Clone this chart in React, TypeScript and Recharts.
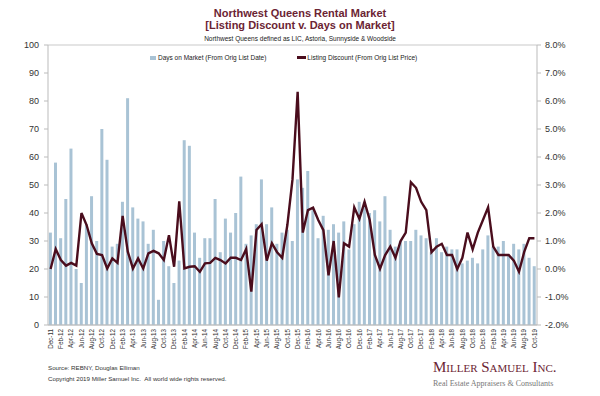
import React from "react";
import {
  Bar,
  CartesianGrid,
  ComposedChart,
  Line,
  XAxis,
  YAxis,
} from "recharts";

// months Dec-11 .. Oct-19
const months = [
  "Dec-11",
  "Jan-12", "Feb-12", "Mar-12", "Apr-12", "May-12", "Jun-12", "Jul-12", "Aug-12", "Sep-12", "Oct-12", "Nov-12", "Dec-12",
  "Jan-13", "Feb-13", "Mar-13", "Apr-13", "May-13", "Jun-13", "Jul-13", "Aug-13", "Sep-13", "Oct-13", "Nov-13", "Dec-13",
  "Jan-14", "Feb-14", "Mar-14", "Apr-14", "May-14", "Jun-14", "Jul-14", "Aug-14", "Sep-14", "Oct-14", "Nov-14", "Dec-14",
  "Jan-15", "Feb-15", "Mar-15", "Apr-15", "May-15", "Jun-15", "Jul-15", "Aug-15", "Sep-15", "Oct-15", "Nov-15", "Dec-15",
  "Jan-16", "Feb-16", "Mar-16", "Apr-16", "May-16", "Jun-16", "Jul-16", "Aug-16", "Sep-16", "Oct-16", "Nov-16", "Dec-16",
  "Jan-17", "Feb-17", "Mar-17", "Apr-17", "May-17", "Jun-17", "Jul-17", "Aug-17", "Sep-17", "Oct-17", "Nov-17", "Dec-17",
  "Jan-18", "Feb-18", "Mar-18", "Apr-18", "May-18", "Jun-18", "Jul-18", "Aug-18", "Sep-18", "Oct-18", "Nov-18", "Dec-18",
  "Jan-19", "Feb-19", "Mar-19", "Apr-19", "May-19", "Jun-19", "Jul-19", "Aug-19", "Sep-19", "Oct-19",
];

const daysOnMarket = [
  33,
  58, 31, 45, 63, 20, 15, 36, 46, 30, 70, 59, 28,
  29, 44, 81, 42, 38, 37, 29, 34, 9, 30, 21, 15,
  23, 66, 64, 33, 24, 31, 31, 45, 26, 38, 33, 40,
  53, 29, 32, 36, 52, 36, 42, 29, 33, 34, 30, 52,
  49, 55, 41, 31, 39, 34, 36, 33, 37, 27, 36, 44,
  44, 40, 41, 37, 46, 34, 28, 30, 30, 30, 34, 32,
  31, 26, 31, 26, 28, 27, 27, 22, 23, 24, 22, 27,
  32, 28, 28, 30, 25, 29, 27, 29, 24, 21,
];

const listingDiscount = [
  0.0,
  0.71, 0.32, 0.12, 0.22, 0.12, 2.0, 1.57, 0.92, 0.54, 0.5, 0.02, 0.38,
  0.22, 1.9, 0.62, 0.02, 0.38, 0.02, 0.56, 0.65, 0.56, 0.32, 1.21, 0.08,
  2.42, 0.02, 0.08, 0.1, -0.1, 0.2, 0.22, 0.4, 0.32, 0.2, 0.4, 0.4,
  0.32, 0.71, -0.81, 1.39, 1.6, 0.3, 0.92, 0.6, 0.4, 1.57, 3.2, 6.33,
  1.3, 2.1, 2.19, 1.75, 1.39, -0.23, 1.0, -1.01, 0.92, 0.8, 2.2, 1.79,
  2.4, 1.75, 0.5, 0.01, 0.5, 0.8, 0.4, 1.0, 1.3, 3.1, 2.9, 2.4,
  2.1, 0.6, 0.8, 0.9, 0.5, 0.5, 0.0, 0.4, 1.3, 0.7, 1.3, 1.75,
  2.2, 0.8, 0.5, 0.5, 0.5, 0.3, -0.1, 0.6, 1.1, 1.1,
];

const leftTicks = [0, 10, 20, 30, 40, 50, 60, 70, 80, 90, 100];
const rightTicks = [-2, -1, 0, 1, 2, 3, 4, 5, 6, 7, 8];

const data = months.map((m, i) => ({
  month: m,
  dom: daysOnMarket[i],
  disc: listingDiscount[i],
}));

const FONT = "'Liberation Sans', Arial, Helvetica, sans-serif";
const BAR = "#a9c3d5";
const LINE = "#4a0d1d";
const BRAND = "#6b2433";

const MonthTick = (props: any) => {
  const { x, y, payload } = props;
  return (
    <text
      x={x}
      y={y}
      transform={`rotate(-90 ${x} ${y})`}
      textAnchor="end"
      dy={2.3}
      fontSize={6.3}
      fontFamily={FONT}
      fill="#333"
    >
      {payload.value}
    </text>
  );
};

const App = () => {
  return (
    <div
      style={{
        position: "absolute",
        left: 0,
        top: 0,
        width: 600,
        height: 396,
        background: "#fff",
        fontFamily: FONT,
      }}
    >
      <div
        style={{
          position: "absolute",
          top: 7,
          width: 600,
          textAlign: "center",
          color: BRAND,
          fontWeight: "bold",
          fontSize: 11,
          lineHeight: "12px",
        }}
      >
        Northwest Queens Rental Market
        <br />
        [Listing Discount v. Days on Market]
      </div>
      <div
        style={{
          position: "absolute",
          top: 35,
          width: 600,
          textAlign: "center",
          fontSize: 6.5,
          color: "#222",
        }}
      >
        Northwest Queens defined as LIC, Astoria, Sunnyside &amp; Woodside
      </div>

      <ComposedChart
        width={600}
        height={396}
        data={data}
        margin={{ top: 45, right: 0, bottom: 0, left: 0 }}
        barCategoryGap="17%"
      >
        <CartesianGrid vertical={false} stroke="#c9c9c9" />
        <XAxis
          dataKey="month"
          interval={1}
          height={71}
          tick={<MonthTick />}
          tickLine={false}
          tickMargin={0}
          tickSize={4}
          stroke="#bbb"
        />
        <YAxis
          yAxisId="left"
          domain={[0, 100]}
          ticks={leftTicks}
          width={48}
          stroke="#bbb"
          tickSize={4}
          tickMargin={5}
          tick={{ fontSize: 9, fill: "#333", fontFamily: FONT }}
          interval={0}
        />
        <YAxis
          yAxisId="right"
          orientation="right"
          domain={[-2, 8]}
          ticks={rightTicks}
          width={63}
          stroke="#bbb"
          tickSize={4}
          tickMargin={4}
          tickFormatter={(v: number) => `${v.toFixed(1)}%`}
          tick={{ fontSize: 9, fill: "#333", fontFamily: FONT }}
          interval={0}
        />
        <Bar
          yAxisId="left"
          dataKey="dom"
          fill={BAR}
          isAnimationActive={false}
        />
        <Line
          yAxisId="right"
          dataKey="disc"
          stroke={LINE}
          strokeWidth={2.4}
          dot={false}
          type="linear"
          isAnimationActive={false}
        />
      </ComposedChart>

      {/* legend */}
      <div
        style={{
          position: "absolute",
          top: 54,
          left: 150,
          fontSize: 6.5,
          color: "#222",
          display: "flex",
          alignItems: "center",
          whiteSpace: "nowrap",
        }}
      >
        <span
          style={{
            display: "inline-block",
            width: 6,
            height: 4,
            background: BAR,
            marginRight: 2,
          }}
        />
        Days on Market (From Orig List Date)
        <span
          style={{
            display: "inline-block",
            width: 9,
            height: 2.5,
            background: LINE,
            marginLeft: 31,
            marginRight: 1,
          }}
        />
        Listing Discount (From Orig List Price)
      </div>

      {/* footer */}
      <div
        style={{
          position: "absolute",
          left: 48,
          top: 362,
          fontSize: 6.2,
          color: "#333",
          lineHeight: "11px",
          whiteSpace: "nowrap",
        }}
      >
        Source: REBNY, Douglas Elliman
        <br />
        Copyright 2019 Miller Samuel Inc.&nbsp;&nbsp;All world wide rights reserved.
      </div>
      <div
        style={{
          position: "absolute",
          left: 433,
          top: 359,
          width: 126,
          fontFamily: "'Liberation Serif', 'DejaVu Serif', serif",
          color: BRAND,
          fontSize: 15,
          fontVariant: "small-caps",
          whiteSpace: "nowrap",
          lineHeight: "16px",
        }}
      >
        Miller Samuel Inc.
      </div>
      <div
        style={{
          position: "absolute",
          left: 433,
          top: 379,
          fontFamily: "'Liberation Serif', 'DejaVu Serif', serif",
          color: "#777",
          fontSize: 8,
          whiteSpace: "nowrap",
        }}
      >
        Real Estate Appraisers &amp; Consultants
      </div>
    </div>
  );
};

export default App;
